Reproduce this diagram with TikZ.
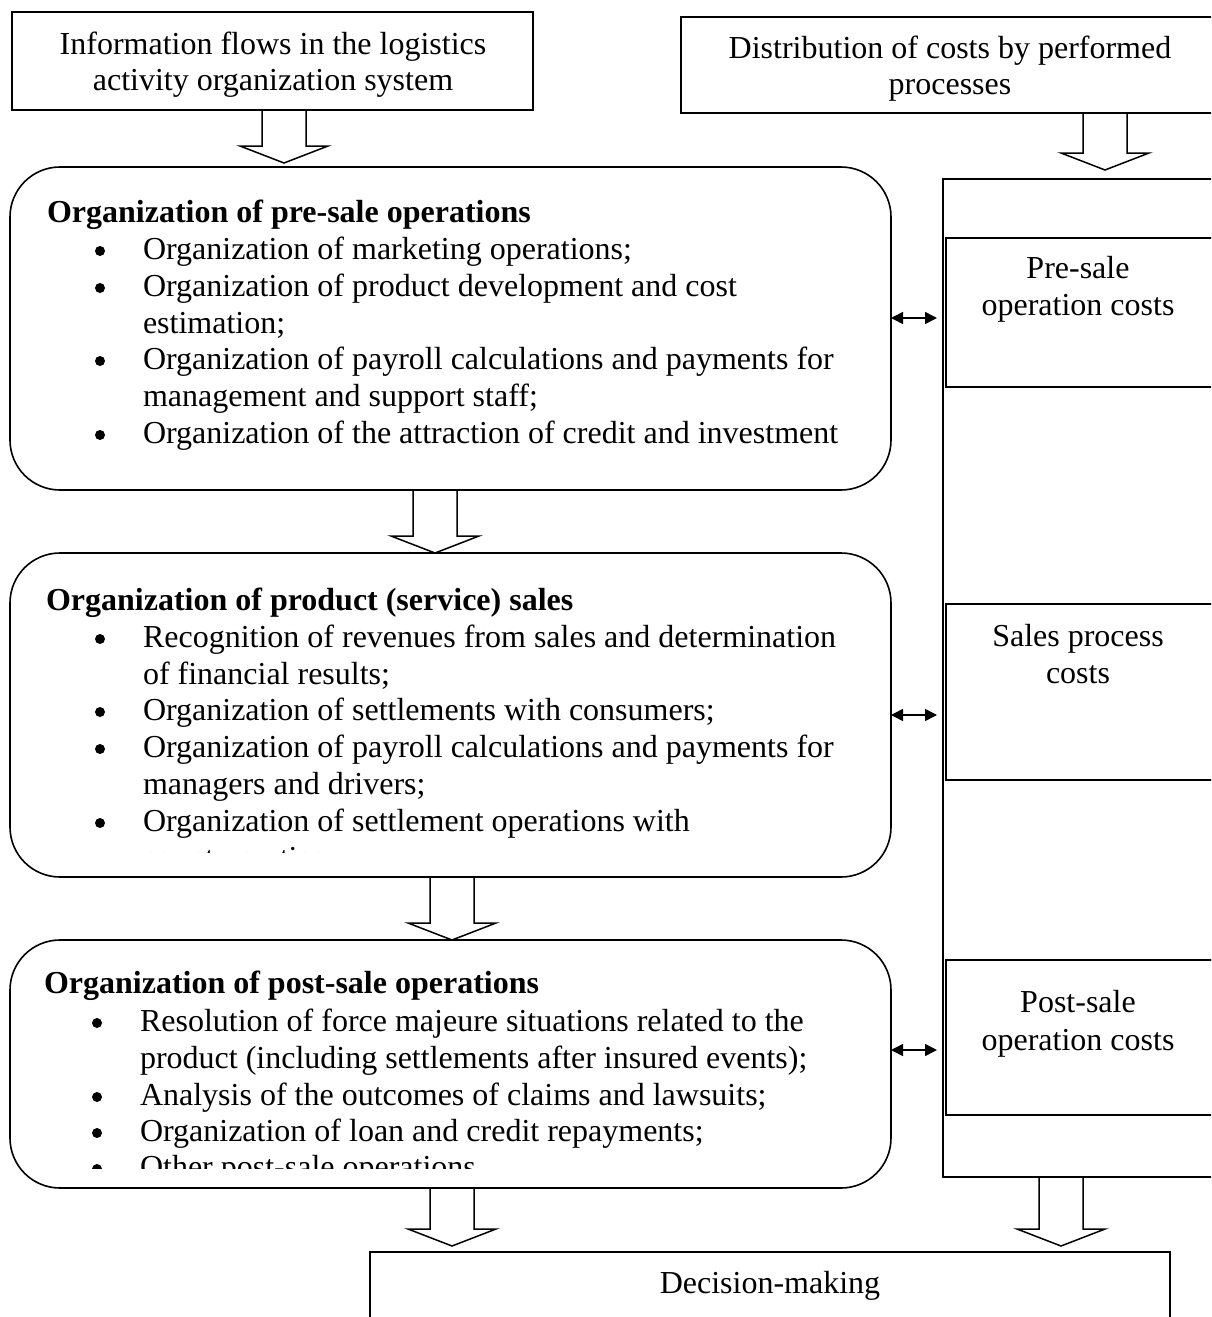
\documentclass[tikz,border=0pt]{standalone}
\usepackage{fontspec}
\setmainfont{Liberation Serif}
\usetikzlibrary{arrows.meta,calc}
\tikzset{
  box/.style={draw, line width=1.6pt, inner sep=0pt, outer sep=0pt, anchor=north west},
  rbox/.style={box, rounded corners=50pt},
  txt/.style={inner sep=0pt, outer sep=0pt, font=\fontsize{32}{36.8}\selectfont},
  ln/.style={txt, anchor=base west},
  cl/.style={txt, anchor=base},
  dot/.style={circle, fill, inner sep=0pt, minimum size=10pt, yshift=8pt},
  ttl/.style={txt, anchor=base west, font=\fontsize{32}{36.8}\selectfont\bfseries},
  blockarr/.style={draw, line width=1.5pt, line join=miter},
  dbl/.style={line width=1.5pt, {Triangle[length=12pt,width=12pt]}-{Triangle[length=12pt,width=12pt]}},
}
\newcommand\hollowarrow[4]{% source node, target node, centre x, gap above target
  \draw[blockarr] let \p1=(#1.south), \p2=(#2.north) in
    (#3pt-22pt,\y1) -- (#3pt-22pt,\y2+#4pt+17pt) -- (#3pt-44pt,\y2+#4pt+17pt)
    -- (#3pt,\y2+#4pt) -- (#3pt+44pt,\y2+#4pt+17pt) -- (#3pt+22pt,\y2+#4pt+17pt)
    -- (#3pt+22pt,\y1);
}
\begin{document}
\begin{tikzpicture}[x=1pt,y=-1pt]
\clip (0,0) rectangle (1211,1317);
\fill[white] (0,0) rectangle (1211,1317);

% top boxes
\node[box, minimum width=521pt, minimum height=98pt] (info) at (12,12) {};
\node[cl] (info1) at (273,54) {Information flows in the logistics};
\node[cl] (info2) at (273,90) {activity organization system};

\node[box, minimum width=540pt, minimum height=96pt] (dist) at (681,17) {};
\node[cl] (dist1) at (950,58) {Distribution of costs by performed};
\node[cl] (dist2) at (950,94) {processes};

% right column
\node[box, minimum width=275pt, minimum height=998pt] (col) at (943,179) {};
\node[box, minimum width=268pt, minimum height=149pt] (cpre) at (946,238) {};
\node[cl] (cpre1) at (1078,278) {Pre-sale};
\node[cl] (cpre2) at (1078,315) {operation costs};
\node[box, minimum width=268pt, minimum height=176pt] (csal) at (946,604) {};
\node[cl] (csal1) at (1078,646) {Sales process};
\node[cl] (csal2) at (1078,683) {costs};
\node[box, minimum width=268pt, minimum height=155pt] (cpost) at (946,960) {};
\node[cl] (cpost1) at (1078,1012) {Post-sale};
\node[cl] (cpost2) at (1078,1050) {operation costs};

% box A
\node[rbox, minimum width=881pt, minimum height=323pt] (preA) at (10,167) {};
\node[ttl] (a0) at (47,222) {Organization of pre-sale operations};
\node[dot] (a1b) at (100,259) {};
\node[ln] (a1) at (143,259) {Organization of marketing operations;};
\node[dot] (a2b) at (100,296) {};
\node[ln] (a2) at (143,296) {Organization of product development and cost};
\node[ln] (a3) at (143,333) {estimation;};
\node[dot] (a4b) at (100,369) {};
\node[ln] (a4) at (143,369) {Organization of payroll calculations and payments for};
\node[ln] (a5) at (143,406) {management and support staff;};
\node[dot] (a6b) at (100,443) {};
\node[ln] (a6) at (143,443) {Organization of the attraction of credit and investment};

% box B
\node[rbox, minimum width=881pt, minimum height=324pt] (salB) at (10,553) {};
\node[ttl] (b0) at (46,610) {Organization of product (service) sales};
\node[dot] (b1b) at (100,647) {};
\node[ln] (b1) at (143,647) {Recognition of revenues from sales and determination};
\node[ln] (b2) at (143,684) {of financial results;};
\node[dot] (b3b) at (100,720) {};
\node[ln] (b3) at (143,720) {Organization of settlements with consumers;};
\node[dot] (b4b) at (100,757) {};
\node[ln] (b4) at (143,757) {Organization of payroll calculations and payments for};
\node[ln] (b5) at (143,794) {managers and drivers;};
\node[dot] (b6b) at (100,831) {};
\node[ln] (b6) at (143,831) {Organization of settlement operations with};
\begin{scope}
\clip (0,553) rectangle (891,852);
\node[ln] (b7) at (143,868) {counterparties;};
\end{scope}

% box C
\node[rbox, minimum width=881pt, minimum height=248pt] (postC) at (10,940) {};
\node[ttl] (c0) at (44,993) {Organization of post-sale operations};
\node[dot] (c1b) at (97,1031) {};
\node[ln] (c1) at (140,1031) {Resolution of force majeure situations related to the};
\node[ln] (c2) at (140,1068) {product (including settlements after insured events);};
\node[dot] (c3b) at (97,1105) {};
\node[ln] (c3) at (140,1105) {Analysis of the outcomes of claims and lawsuits;};
\node[dot] (c4b) at (97,1141) {};
\node[ln] (c4) at (140,1141) {Organization of loan and credit repayments;};
\begin{scope}
\clip (0,940) rectangle (891,1168);
\node[dot] (c5b) at (97,1177) {};
\node[ln] (c5) at (140,1177) {Other post-sale operations};
\end{scope}

% decision box
\node[box, minimum width=800pt, minimum height=100pt] (dec) at (370,1252) {};
\node[cl] (dec1) at (770,1293) {Decision-making};

% block arrows
\hollowarrow{info}{preA}{284}{4}
\hollowarrow{dist}{col}{1105}{9}
\hollowarrow{preA}{salB}{435}{0}
\hollowarrow{salB}{postC}{452}{0}
\hollowarrow{postC}{dec}{452}{6}
\hollowarrow{col}{dec}{1061}{6}

% double arrows
\draw[dbl, shorten >=6pt] (preA.east |- 0,318) -- (col.west |- 0,318);
\draw[dbl, shorten >=6pt] (salB.east |- 0,715) -- (col.west |- 0,715);
\draw[dbl, shorten >=6pt] (postC.east |- 0,1050) -- (col.west |- 0,1050);
\end{tikzpicture}
\end{document}
